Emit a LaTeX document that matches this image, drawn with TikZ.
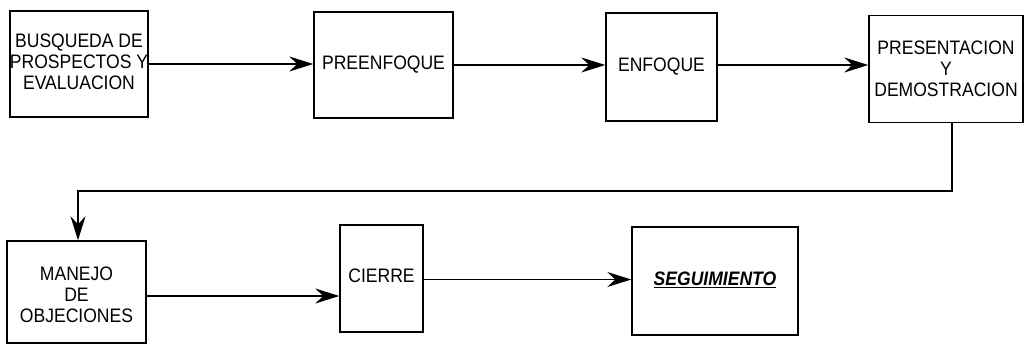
\documentclass[tikz,border=0pt]{standalone}
\usepackage{fontspec}
\setmainfont{Liberation Sans}
\usetikzlibrary{arrows.meta}
\newcommand{\lbl}[1]{\scalebox{0.9}[1]{\begin{tabular}{@{}c@{}}#1\end{tabular}}}
\begin{document}
\begin{tikzpicture}[x=1pt,y=-1pt,
  box/.style={draw=black, line width=1.4pt, inner sep=0pt, align=center,
    font=\fontsize{19.5}{21}\selectfont},
  arr/.style={draw=black, line width=1.4pt, -{Stealth[length=24pt,width=15pt,inset=8pt]}}]
\useasboundingbox (0,0) rectangle (1026,345);
\node[box, minimum width=138pt, minimum height=106pt] (b1) at (79,64) {\lbl{BUSQUEDA DE\\PROSPECTOS Y\\EVALUACION}};
\node[box, minimum width=139pt, minimum height=106pt] (b2) at (383.5,65) {\lbl{PREENFOQUE}};
\node[box, minimum width=111pt, minimum height=108pt] (b3) at (661.5,67) {\lbl{ENFOQUE}};
\node[box, minimum width=154pt, minimum height=107pt] (b4) at (946,69) {\raisebox{-2pt}[\height][\depth]{\lbl{PRESENTACION\\Y\\DEMOSTRACION}}};
\node[box, minimum width=139pt, minimum height=102pt] (b5) at (76.5,292) {\raisebox{-5pt}[\height][\depth]{\lbl{MANEJO\\DE\\OBJECIONES}}};
\node[box, minimum width=83pt, minimum height=107pt] (b6) at (381.5,278.5) {\lbl{CIERRE}};
\node[box, minimum width=166pt, minimum height=108pt] (b7) at (715,281) {\lbl{\underline{\textbf{\textit{SEGUIMIENTO}}}}};
\coordinate (turn) at (0,191);
\draw[arr] (b1.east) -- (b1.east -| b2.west);
\draw[arr] (b2.east) -- (b2.east -| b3.west);
\draw[arr] ([yshift=2pt]b3.east) -- ([yshift=2pt]b3.east -| b4.west);
\draw[arr] ([xshift=6pt]b4.south) |- ([xshift=1.5pt]b5.north |- turn) -- ([xshift=1.5pt]b5.north);
\draw[arr] ([yshift=-4pt]b5.east) -- ([yshift=-4pt]b5.east -| b6.west);
\draw[arr] ([yshift=-1pt]b6.east) -- ([yshift=-1pt]b6.east -| b7.west);
\end{tikzpicture}
\end{document}
